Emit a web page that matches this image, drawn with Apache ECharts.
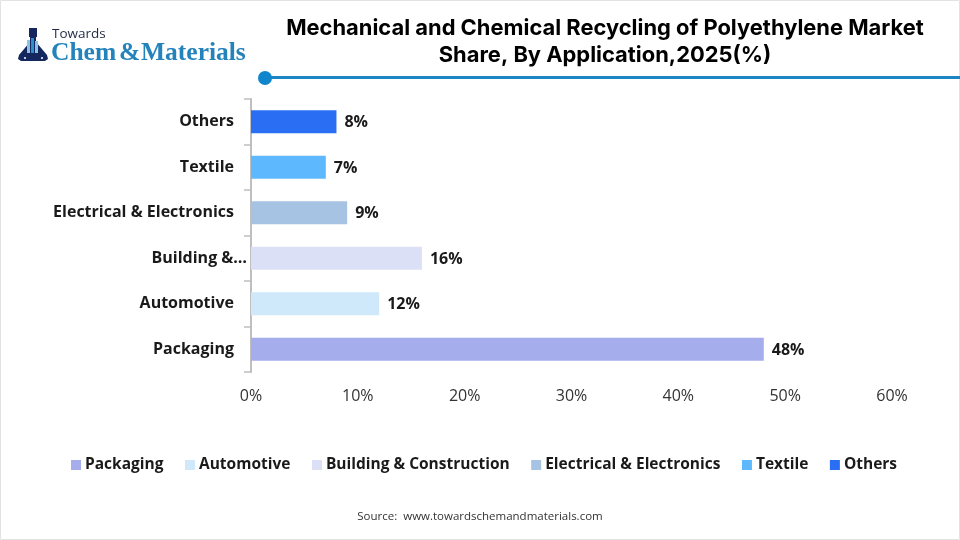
<!DOCTYPE html>
<html>
<head>
<meta charset="utf-8">
<style>
html,body{margin:0;padding:0;background:#fff}
#chart{width:960px;height:540px}
</style>
<script src="https://cdn.jsdelivr.net/npm/echarts@6/dist/echarts.min.js"></script>
</head>
<body>
<div id="chart"></div>
<script>
const categories = ['Packaging', 'Automotive', 'Building & Construction', 'Electrical & Electronics', 'Textile', 'Others'];
const tickLabels = ['Packaging', 'Automotive', 'Building &…', 'Electrical & Electronics', 'Textile', 'Others'];
const shares = [48, 12, 16, 9, 7, 8];
const colors = ['#A5ADEC', '#CFE9FB', '#DCE0F6', '#A6C3E4', '#5EB8FE', '#2A6FF3'];
const titleLines = 'Mechanical and Chemical Recycling of Polyethylene Market\nShare, By Application,2025(%)';
const sourceText = 'Source:  www.towardschemandmaterials.com';

const uiFont = '"Open Sans", "Noto Sans", sans-serif';

// One stacked series per application, so each has its own colour and legend entry.
const series = categories.map((name, i) => ({
  name,
  type: 'bar',
  stack: 'share',
  barWidth: 23,
  itemStyle: { color: colors[i] },
  label: {
    show: true,
    position: 'right',
    distance: 8,
    offset: [0, 1],
    formatter: '{c}%',
    color: '#1a1a1a',
    fontFamily: uiFont,
    fontWeight: 700,
    fontSize: 16
  },
  data: categories.map((_, j) => (j === i ? shares[i] : null))
}));

// The truncated tick sits closer to the axis than the others.
const yAxisData = tickLabels.map(value =>
  value.endsWith('…') ? { value, textStyle: { padding: [0, 0, 0, 0] } } : value
);

const chart = echarts.init(document.getElementById('chart'), null, { renderer: 'canvas' });
chart.setOption({
  animation: false,
  backgroundColor: '#fff',
  textStyle: { fontFamily: uiFont },
  title: {
    text: titleLines,
    left: 600,
    top: 10,
    textAlign: 'center',
    textStyle: {
      fontFamily: '"Inter", "Noto Sans", sans-serif',
      fontSize: 21.9,
      fontWeight: 700,
      color: '#000',
      lineHeight: 27
    }
  },
  grid: { left: 251, right: 68, top: 99, bottom: 168, containLabel: false },
  xAxis: {
    type: 'value',
    min: 0,
    max: 60,
    interval: 10,
    axisLine: { show: false },
    axisTick: { show: false },
    splitLine: { show: false },
    axisLabel: {
      formatter: '{value}%',
      color: '#333',
      fontFamily: uiFont,
      fontSize: 16,
      margin: 16
    }
  },
  yAxis: {
    type: 'category',
    data: yAxisData,
    axisLine: { show: true, lineStyle: { color: '#bfbfbf', width: 2 } },
    axisTick: { show: true, length: 7, lineStyle: { color: '#bfbfbf', width: 1.5 } },
    axisLabel: {
      color: '#1a1a1a',
      fontFamily: uiFont,
      fontWeight: 700,
      fontSize: 16,
      margin: 4,
      padding: [0, 13, 0, 0],
      interval: 0
    }
  },
  legend: {
    data: categories,
    bottom: 62,
    left: 66,
    icon: 'rect',
    itemWidth: 10,
    itemHeight: 10,
    itemGap: 21.5,
    textStyle: {
      color: '#1a1a1a',
      fontFamily: uiFont,
      fontWeight: 700,
      fontSize: 15.5,
      padding: [0, 0, 0, -1]
    }
  },
  series,
  graphic: [
    // outer frame
    { type: 'rect', shape: { x: 0.5, y: 0.5, width: 959, height: 539 }, style: { fill: 'none', stroke: '#e2e2e2', lineWidth: 1 }, silent: true },
    // header rule with its round marker
    { type: 'line', shape: { x1: 265, y1: 77.5, x2: 960, y2: 77.5 }, style: { stroke: '#1b86c2', lineWidth: 3 } },
    { type: 'circle', shape: { cx: 265, cy: 78, r: 7 }, style: { fill: '#0f86cc' } },
    // flask emblem
    { type: 'polygon', shape: { points: [[29, 28], [37, 28], [37, 37], [36, 37], [36, 42], [47, 55], [48, 59], [45, 61], [21, 61], [18, 59], [19, 55], [30, 42], [30, 37], [29, 37]] }, style: { fill: '#14285f' } },
    { type: 'rect', shape: { x: 27, y: 40, width: 3, height: 13 }, style: { fill: '#8cc3e4' } },
    { type: 'rect', shape: { x: 31, y: 38, width: 3, height: 15 }, style: { fill: '#2c8fc9' } },
    { type: 'rect', shape: { x: 35, y: 41, width: 3, height: 12 }, style: { fill: '#8cc3e4' } },
    { type: 'circle', shape: { cx: 25, cy: 58, r: 1 }, style: { fill: '#fff' } },
    { type: 'circle', shape: { cx: 42, cy: 58, r: 1 }, style: { fill: '#fff' } },
    // wordmark
    { type: 'text', style: { x: 52, y: 27, text: 'Towards', fill: '#1f2a44', font: '400 13.5px "Open Sans", sans-serif' } },
    { type: 'text', style: { x: 51, y: 40, text: 'Chem', fill: '#2483bb', font: '700 25.5px "Liberation Serif", serif' } },
    { type: 'text', style: { x: 119, y: 40, text: '&', fill: '#2483bb', font: '700 25.5px "Liberation Serif", serif' } },
    { type: 'text', style: { x: 141, y: 40, text: 'Materials', fill: '#2483bb', font: '700 25.5px "Liberation Serif", serif' } },
    // source line
    { type: 'text', style: { x: 480, y: 511, text: sourceText, align: 'center', fill: '#333', font: '400 11.5px "Open Sans", sans-serif' } }
  ]
});
</script>
</body>
</html>
